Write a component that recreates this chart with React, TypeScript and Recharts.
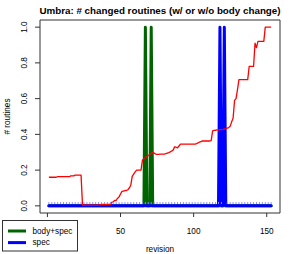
import React from 'react';
import { LineChart, Line, XAxis, YAxis, ReferenceArea, Legend } from 'recharts';

// revision numbers 1..153
const revisions: number[] = [
  1, 2, 3, 4, 5, 6, 7, 8, 9, 10, 11, 12, 13, 14, 15, 16, 17, 18, 19, 20,
  21, 22, 23, 24, 25, 26, 27, 28, 29, 30, 31, 32, 33, 34, 35, 36, 37, 38, 39, 40,
  41, 42, 43, 44, 45, 46, 47, 48, 49, 50, 51, 52, 53, 54, 55, 56, 57, 58, 59, 60,
  61, 62, 63, 64, 65, 66, 67, 68, 69, 70, 71, 72, 73, 74, 75, 76, 77, 78, 79, 80,
  81, 82, 83, 84, 85, 86, 87, 88, 89, 90, 91, 92, 93, 94, 95, 96, 97, 98, 99, 100,
  101, 102, 103, 104, 105, 106, 107, 108, 109, 110, 111, 112, 113, 114, 115, 116, 117, 118, 119, 120,
  121, 122, 123, 124, 125, 126, 127, 128, 129, 130, 131, 132, 133, 134, 135, 136, 137, 138, 139, 140,
  141, 142, 143, 144, 145, 146, 147, 148, 149, 150, 151, 152, 153,
];

// share of routines changed so far (red line)
const cumulative: number[] = [
  0.16, 0.16, 0.16, 0.16, 0.16, 0.16, 0.163, 0.163, 0.163, 0.163, 0.163, 0.163, 0.163, 0.163, 0.163, 0.168, 0.168, 0.168, 0.172, 0.172,
  0.172, 0.172, 0.172, 0.004, 0.004, 0.004, 0.004, 0.004, 0.004, 0.004, 0.004, 0.004, 0.004, 0.004, 0.004, 0.004, 0.008, 0.008, 0.008, 0.008,
  0.008, 0.008, 0.008, 0.02, 0.023, 0.03, 0.03, 0.043, 0.05, 0.066, 0.081, 0.083, 0.085, 0.086, 0.09, 0.1, 0.115, 0.165, 0.178, 0.19,
  0.2, 0.2, 0.2, 0.2, 0.256, 0.262, 0.27, 0.276, 0.282, 0.287, 0.294, 0.3, 0.295, 0.29, 0.288, 0.288, 0.289, 0.29, 0.29, 0.29,
  0.292, 0.295, 0.298, 0.302, 0.307, 0.312, 0.33, 0.328, 0.325, 0.335, 0.345, 0.345, 0.345, 0.345, 0.345, 0.345, 0.345, 0.345, 0.345, 0.345,
  0.345, 0.348, 0.352, 0.357, 0.36, 0.363, 0.363, 0.363, 0.363, 0.363, 0.363, 0.365, 0.42, 0.422, 0.423, 0.425, 0.425, 0.426, 0.427, 0.428,
  0.43, 0.432, 0.435, 0.438, 0.445, 0.47, 0.49, 0.59, 0.6, 0.65, 0.706, 0.706, 0.706, 0.706, 0.706, 0.706, 0.706, 0.78, 0.78, 0.78,
  0.78, 0.91, 0.885, 0.92, 0.92, 0.92, 0.92, 0.92, 1.0, 1.0, 1.0, 1.0, 1.0,
];

// revisions where routines changed in body and spec / only spec
const bodySpecHits: number[] = [67, 71];
const specHits: number[] = [118, 121];

const yTicks = [0, 0.2, 0.4, 0.6, 0.8, 1.0];
const xTicks = [0, 50, 100, 150];

const data = revisions.map((rev, i) => ({
  rev,
  total: cumulative[i],
  bodySpec: bodySpecHits.includes(rev) ? 1 : 0,
  spec: specHits.includes(rev) ? 1 : 0,
}));

const FONT = '"Liberation Sans", Arial, Helvetica, sans-serif';

const YTick = (props: any) => {
  const { y, payload } = props;
  return (
    <text x={27} y={y} transform={`rotate(-90 27 ${y})`} textAnchor="middle"
      fontSize={8.2} fontFamily={FONT} fill="#000">
      {payload.value.toFixed(1)}
    </text>
  );
};

// the "0" label sits under the legend box, so it is not drawn
const XTick = (props: any) => {
  const { x, payload } = props;
  if (payload.value === 0) return <g />;
  return (
    <text x={x} y={233.5} textAnchor="middle" fontSize={8.2} fontFamily={FONT} fill="#000">
      {payload.value}
    </text>
  );
};

// small light marks along the flat blue line
const specTick = (props: any) => {
  const { cx, cy, index, payload } = props;
  if (index % 2 === 1 || payload.spec !== 0) return <g key={`t${index}`} />;
  return <rect key={`t${index}`} x={cx - 0.5} y={cy - 3.8} width={1} height={2} fill="#8c8cff" />;
};

const LegendBox = (props: any) => {
  const items = (props.payload || []).filter((p: any) => p.type !== 'none');
  return (
    <svg width={77} height={32} style={{ display: 'block' }}>
      <rect x={0.5} y={0.5} width={75} height={30.5} fill="#fff" stroke="#333" />
      {items.map((p: any, i: number) => (
        <g key={p.value}>
          <line x1={6} x2={24} y1={11 + i * 11.6} y2={11 + i * 11.6} stroke={p.color} strokeWidth={3} />
          <text x={30.5} y={13.8 + i * 11.6} fontSize={8.2} fontFamily={FONT} fill="#000">{p.value}</text>
        </g>
      ))}
    </svg>
  );
};

export default function App() {
  return (
    <div style={{ position: 'absolute', left: 0, top: 0 }}>
      <LineChart width={294} height={254} data={data} margin={{ top: 20, right: 14, left: 0, bottom: 0 }}>
        <XAxis dataKey="rev" type="number" domain={[-5.08, 159.08]} ticks={xTicks} height={41}
          axisLine={false} tickSize={4} tickLine={{ stroke: '#333' }} tick={XTick} interval={0} />
        <YAxis type="number" domain={[-0.04, 1.04]} ticks={yTicks} width={40}
          axisLine={false} tickSize={5} tickLine={{ stroke: '#333' }} tick={YTick} interval={0} />
        <ReferenceArea x1={-5.08} x2={159.08} y1={-0.04} y2={1.04} fill="none" stroke="#333" ifOverflow="visible" />
        <Line dataKey="bodySpec" name="body+spec" stroke="#006400" strokeWidth={3} dot={false}
          strokeLinejoin="round" strokeLinecap="round" isAnimationActive={false} />
        <Line dataKey="spec" name="spec" stroke="#0000ff" strokeWidth={3} dot={specTick}
          strokeLinejoin="round" strokeLinecap="round" isAnimationActive={false} />
        <Line dataKey="total" name="total" stroke="#ff0000" strokeWidth={1.3} dot={false} legendType="none"
          strokeLinejoin="round" isAnimationActive={false} />
        <Legend layout="vertical" align="center" verticalAlign="middle" content={LegendBox}
          wrapperStyle={{ left: 2, top: 219.5, width: 77, height: 32 }} />
        <text x={160} y={14} textAnchor="middle" fontSize={9.8} fontWeight="bold" fontFamily={FONT} fill="#000">
          Umbra: # changed routines (w/ or w/o body change)
        </text>
        <text x={10} y={116.5} transform="rotate(-90 10 116.5)" textAnchor="middle" fontSize={8.2} fontFamily={FONT} fill="#000">
          # routines
        </text>
        <text x={160} y={251.5} textAnchor="middle" fontSize={8.2} fontFamily={FONT} fill="#000">
          revision
        </text>
      </LineChart>
    </div>
  );
}
